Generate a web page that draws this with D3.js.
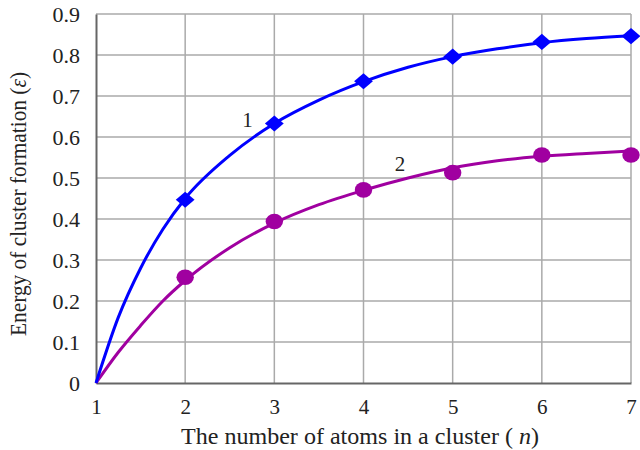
<!DOCTYPE html>
<html>
<head>
<meta charset="utf-8">
<script src="https://cdn.jsdelivr.net/npm/d3@7"></script>
<style>
  body { margin: 0; background: #fff; }
  svg text { font-family: "Liberation Serif", "DejaVu Serif", serif; fill: #222; }
</style>
</head>
<body>
<svg id="chart" width="640" height="450"></svg>
<script>
// measured points
var nValues = [2, 3, 4, 5, 6, 7];
var series1 = [0.447, 0.633, 0.736, 0.796, 0.832, 0.846];
var series2 = [0.258, 0.394, 0.471, 0.513, 0.556, 0.556];

// fitted curves
var curveN = [1, 1.25, 1.5, 1.75, 2, 2.5, 3, 3.5, 4, 4.5, 5, 5.5, 6, 6.5, 7];
var curve1 = [0, 0.16, 0.28, 0.375, 0.45, 0.555, 0.633, 0.69, 0.735, 0.77, 0.796, 0.815, 0.83, 0.84, 0.847];
var curve2 = [0, 0.075, 0.14, 0.2, 0.25, 0.33, 0.39, 0.435, 0.47, 0.5, 0.525, 0.542, 0.553, 0.56, 0.566];

var xTicks = [1, 2, 3, 4, 5, 6, 7];
var yTicks = [0, 0.1, 0.2, 0.3, 0.4, 0.5, 0.6, 0.7, 0.8, 0.9];

// curve labels: [n, energy, text]
var curveLabels = [[2.70, 0.624, "1"], [4.41, 0.517, "2"]];

var svg = d3.select("#chart");
var margin = { left: 96, right: 9, top: 14, bottom: 67 };
var width = 640 - margin.left - margin.right,
  height = 450 - margin.top - margin.bottom;

var x = d3.scaleLinear().domain([1, 7]).range([0, width]);
var y = d3.scaleLinear().domain([0, 0.9]).range([height, 0]);

var g = svg.append("g").attr("transform", "translate(" + margin.left + "," + margin.top + ")");

//
// grid
//
g.append("g").selectAll("line")
  .data(xTicks.slice(1))
  .enter().append("line")
  .attr("x1", d => x(d)).attr("x2", d => x(d))
  .attr("y1", 0).attr("y2", height)
  .attr("stroke", "#aaa").attr("stroke-width", 1.5);

g.append("g").selectAll("line")
  .data(yTicks.slice(1))
  .enter().append("line")
  .attr("x1", 0).attr("x2", x(7))
  .attr("y1", d => y(d)).attr("y2", d => y(d))
  .attr("stroke", "#aaa").attr("stroke-width", 1.5);

// axes
var xAxis = g.append("g")
  .attr("transform", "translate(0," + height + ")")
  .call(d3.axisBottom(x).tickValues(xTicks).tickSize(0).tickFormat(d3.format("d")));
var yAxis = g.append("g")
  .call(d3.axisLeft(y).tickValues(yTicks).tickSize(0).tickPadding(16)
    .tickFormat(d => d === 0 ? "0" : d3.format(".1f")(d)));

[xAxis, yAxis].forEach(a => {
  a.select(".domain").attr("stroke", "#666").attr("stroke-width", 2);
  a.selectAll("text").attr("fill", "#222").attr("font-family", "Liberation Serif, serif");
});
xAxis.selectAll("text").attr("font-size", 21).attr("y", 31).attr("dy", 0);
yAxis.selectAll("text").attr("font-size", 22);

//
// curves
//
var line = d3.line()
  .x(d => x(d[0]))
  .y(d => y(d[1]))
  .curve(d3.curveMonotoneX);

g.append("path")
  .datum(d3.zip(curveN, curve2))
  .attr("d", line)
  .attr("fill", "none")
  .attr("stroke", "#a000a0")
  .attr("stroke-width", 3);

g.append("path")
  .datum(d3.zip(curveN, curve1))
  .attr("d", line)
  .attr("fill", "none")
  .attr("stroke", "#0000ff")
  .attr("stroke-width", 3);

// markers
g.append("g").selectAll("ellipse")
  .data(d3.zip(nValues, series2))
  .enter().append("ellipse")
  .attr("cx", d => x(d[0]))
  .attr("cy", d => y(d[1]))
  .attr("rx", 8.7)
  .attr("ry", 7.8)
  .attr("fill", "#a000a0");

var diamond = d3.symbol().type(d3.symbolDiamond2).size(225);
g.append("g").selectAll("path")
  .data(d3.zip(nValues, series1))
  .enter().append("path")
  .attr("d", diamond)
  .attr("transform", d => "translate(" + x(d[0]) + "," + y(d[1]) + ") scale(1,0.86)")
  .attr("fill", "#0000ff");

// curve labels
g.append("g").selectAll("text")
  .data(curveLabels)
  .enter().append("text")
  .attr("x", d => x(d[0]))
  .attr("y", d => y(d[1]))
  .attr("font-size", 21)
  .attr("text-anchor", "middle")
  .text(d => d[2]);

//
// axis titles
//
var xt = svg.append("text")
  .attr("x", 360)
  .attr("y", 444)
  .attr("text-anchor", "middle")
  .attr("font-size", 23)
  .attr("textLength", 358)
  .attr("lengthAdjust", "spacingAndGlyphs");
xt.append("tspan").text("The number of atoms in a cluster ( ");
xt.append("tspan").attr("font-style", "italic").text("n");
xt.append("tspan").text(")");

var yt = svg.append("text")
  .attr("transform", "translate(26,204) rotate(-90)")
  .attr("text-anchor", "middle")
  .attr("font-size", 23)
  .attr("textLength", 264)
  .attr("lengthAdjust", "spacingAndGlyphs");
yt.append("tspan").text("Energy of cluster formation (");
yt.append("tspan").attr("font-style", "italic").text("ε");
yt.append("tspan").text(")");
</script>
</body>
</html>
